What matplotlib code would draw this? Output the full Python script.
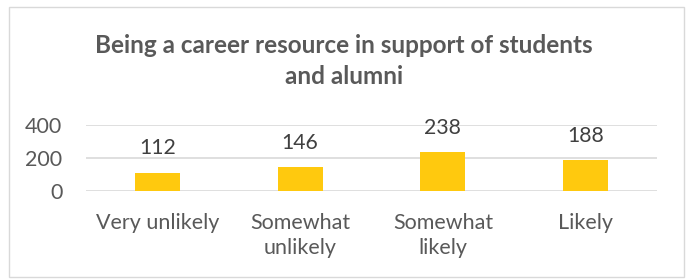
import matplotlib
matplotlib.use("Agg")
import matplotlib.pyplot as plt
from matplotlib.patches import Rectangle

categories = ["Very unlikely", "Somewhat\nunlikely", "Somewhat\nlikely", "Likely"]
values = [112, 146, 238, 188]
yticks = [0, 200, 400]
title = "Being a career resource in support of students\nand alumni"

plt.rcParams['font.family'] = ['Lato', 'DejaVu Sans']
txt = '#595959'

fig = plt.figure(figsize=(6.88, 2.8), dpi=100)
fig.patches.append(Rectangle((9/688, 3/280), 675/688, 270/280, transform=fig.transFigure,
                             fill=False, edgecolor='#D9D9D9', linewidth=1))
ax = fig.add_axes([86/688, 1 - 191/280, (657-86)/688, (191-125)/280])
x = range(len(categories))
bars = ax.bar(x, values, width=0.315, color='#FFC90E', zorder=3)
for xi, v in zip(x, values):
    ax.annotate(str(v), (xi, v), xytext=(0, 13), textcoords='offset points',
                ha='center', va='baseline', fontsize=15.3, color='#404040')
ax.set_xlim(-0.5, len(categories) - 0.5)
ax.set_ylim(0, 400)
ax.set_yticks(yticks)
ax.set_xticks(list(x))
ax.set_xticklabels(categories, fontsize=15.5, color=txt, linespacing=1.32)
ax.tick_params(axis='y', labelsize=15.5, labelcolor=txt, length=0, pad=17)
ax.tick_params(axis='x', length=0, pad=16)
ax.grid(axis='y', color='#D9D9D9', linewidth=1.2, zorder=0)
for s in ax.spines.values():
    s.set_visible(False)
fig.text(0.5, 1 - 61/280, title, ha='center', va='center', fontsize=17.5, fontweight='bold',
         color=txt, linespacing=1.42)
fig.savefig('out.png', dpi=100)
